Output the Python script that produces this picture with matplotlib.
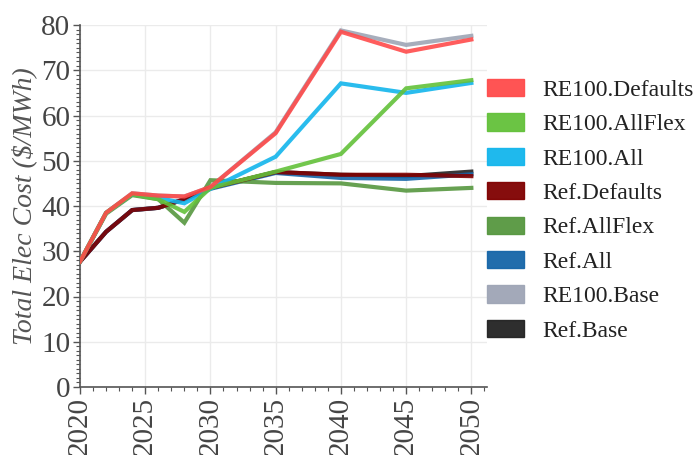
import matplotlib
matplotlib.use("Agg")
import matplotlib.pyplot as plt
from matplotlib.patches import Patch
from matplotlib.ticker import MultipleLocator

years = [2020, 2022, 2024, 2026, 2028, 2030, 2035, 2040, 2045, 2050]

re100_defaults = [27.7, 38.5, 42.8, 42.3, 42.1, 44.2, 56.1, 78.5, 74.1, 76.8]
re100_allflex  = [27.7, 38.5, 42.6, 41.5, 38.7, 44.0, 47.6, 51.5, 66.0, 67.8]
re100_all      = [27.7, 38.5, 42.6, 41.8, 40.6, 43.8, 50.9, 67.1, 65.0, 67.2]
ref_defaults   = [27.7, 34.3, 39.1, 39.6, 41.5, 44.0, 47.5, 46.9, 46.9, 46.6]
ref_allflex    = [27.7, 38.3, 42.4, 41.5, 36.3, 45.7, 45.1, 45.0, 43.4, 44.0]
ref_all        = [27.7, 34.3, 39.1, 39.6, 41.5, 43.8, 47.3, 46.2, 46.0, 47.0]
re100_base     = [27.7, 38.5, 42.8, 42.3, 42.1, 44.2, 56.3, 78.8, 75.6, 77.6]
ref_base       = [27.7, 34.3, 39.1, 39.6, 41.5, 44.0, 47.5, 46.9, 46.6, 47.6]

labels = ["RE100.Defaults", "RE100.AllFlex", "RE100.All", "Ref.Defaults",
          "Ref.AllFlex", "Ref.All", "RE100.Base", "Ref.Base"]
series = [re100_defaults, re100_allflex, re100_all, ref_defaults,
          ref_allflex, ref_all, re100_base, ref_base]
colors = ["#ff4b4b", "#63c13a", "#13b5ec", "#800000",
          "#56973f", "#1565a8", "#9ea5b5", "#222222"]

plt.rcParams["font.family"] = ["Liberation Serif", "DejaVu Serif"]

fig = plt.figure(figsize=(6.99, 4.55), dpi=100)
ax = fig.add_axes([80 / 699, 1 - 387 / 455, 407 / 699, 362 / 455])

draw_order = [7, 6, 5, 4, 3, 2, 1, 0]
for i in draw_order:
    ax.plot(years, series[i], color=colors[i], lw=3.0, alpha=0.9,
            solid_joinstyle="miter", zorder=3 + (8 - i) * 0.1)

ax.set_xlim(2020, 2051.2)
ax.set_ylim(0, 80)
ax.xaxis.set_major_locator(MultipleLocator(5))
ax.xaxis.set_minor_locator(MultipleLocator(1))
ax.yaxis.set_major_locator(MultipleLocator(10))
ax.yaxis.set_minor_locator(MultipleLocator(1))

ax.grid(True, which="major", color="#ebebeb", lw=1.0)
ax.set_axisbelow(True)
for s in ["top", "right"]:
    ax.spines[s].set_visible(False)
for s in ["left", "bottom"]:
    ax.spines[s].set_color("#555555")
    ax.spines[s].set_linewidth(1.2)

ax.tick_params(which="major", length=5, width=1.0, color="#555555",
               labelsize=21, labelcolor="#444444", pad=2)
ax.tick_params(which="minor", length=3, width=0.8, color="#555555")
ax.tick_params(axis="x", labelrotation=90)

ax.set_ylabel("Total Elec Cost ($/MWh)", fontsize=20, style="italic",
              color="#555555", labelpad=3)

handles = [Patch(facecolor=c, edgecolor=c, alpha=0.95) for c in colors]
fig.legend(handles, labels, loc="upper left", bbox_to_anchor=(487 / 699, 1 - 79 / 455),
           frameon=False, fontsize=17, handlelength=1.55, handleheight=0.75,
           handletextpad=0.8, labelspacing=0.53, borderpad=0, borderaxespad=0,
           labelcolor="#222222")

fig.savefig("out.png", dpi=100)
